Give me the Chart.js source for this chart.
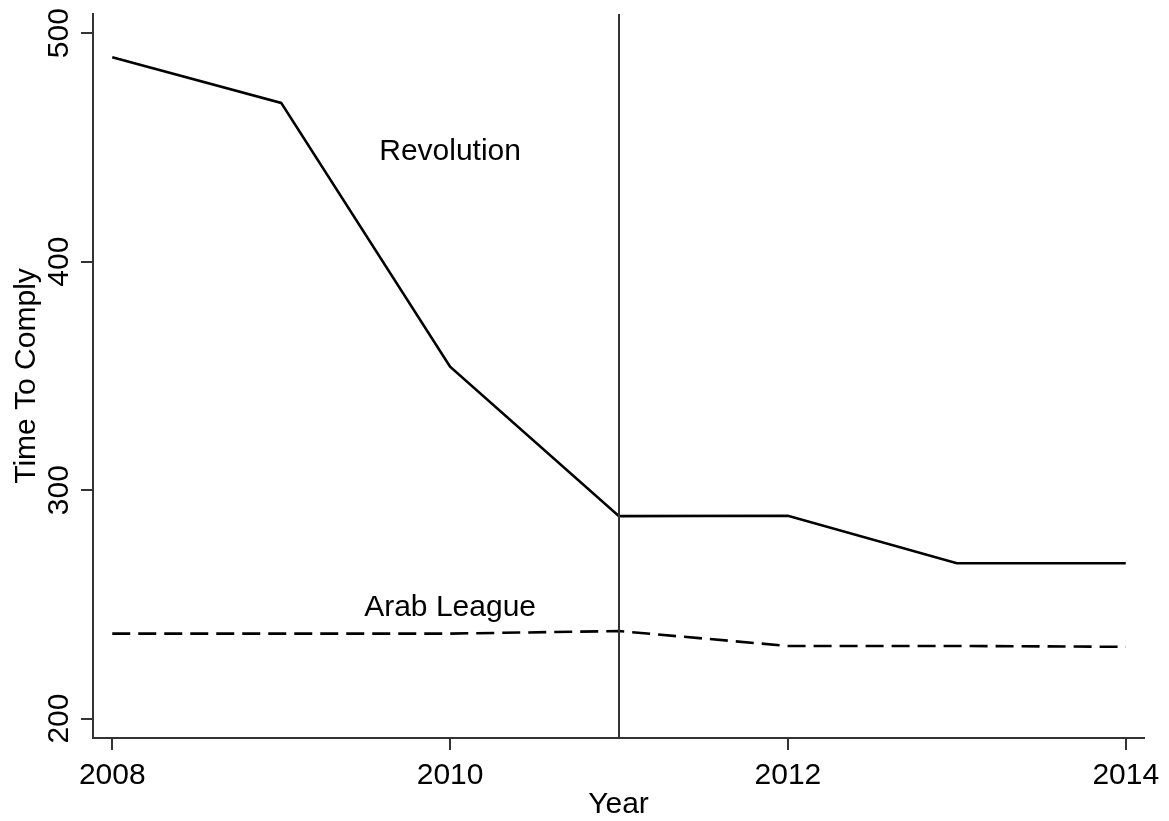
<!DOCTYPE html>
<html>
<head>
<meta charset="utf-8">
<script src="https://cdn.jsdelivr.net/npm/chart.js@4.4.1/dist/chart.umd.min.js"></script>
<style>
  html, body { margin: 0; padding: 0; background: #fff; }
  #wrap { width: 1169px; height: 821px; }
</style>
</head>
<body>
<div id="wrap"><canvas id="c" width="1169" height="821"></canvas></div>
<script>
// Time to comply (hours) by year
const years = [2008, 2009, 2010, 2011, 2012, 2013, 2014];
const revolution = [489.5, 469.5, 354.0, 288.6, 288.8, 268.0, 268.0];
const arabLeague = [237.2, 237.2, 237.2, 238.3, 231.8, 231.8, 231.4];

// Axis ticks
const xTicks = [2008, 2010, 2012, 2014];
const yTicks = [200, 300, 400, 500];

// Reference event and series captions (data coordinates)
const eventYear = 2011;
const captionText = ['Revolution', 'Arab League'];
const captionYear = [2010, 2010];
const captionValue = [448.1, 248.3];

const FONT = '"Liberation Sans", Arial, Helvetica, sans-serif';
const AXIS = '#333333';
Chart.defaults.font.family = FONT;
Chart.defaults.color = '#000';

const toPoints = (vals) => years.map((yr, i) => ({ x: yr, y: vals[i] }));

// Vertical marker at the event year plus the in-plot captions
const overlay = {
  id: 'overlay',
  afterDatasetsDraw(chart) {
    const { ctx, chartArea, scales: { x, y } } = chart;
    const px = Math.round(x.getPixelForValue(eventYear));
    ctx.save();
    ctx.strokeStyle = AXIS;
    ctx.lineWidth = 2;
    ctx.beginPath();
    ctx.moveTo(px, chartArea.top);
    ctx.lineTo(px, chartArea.bottom);
    ctx.stroke();
    ctx.font = '30px ' + FONT;
    ctx.fillStyle = '#000';
    ctx.textAlign = 'center';
    ctx.textBaseline = 'middle';
    captionText.forEach((t, i) => {
      ctx.fillText(t, x.getPixelForValue(captionYear[i]), y.getPixelForValue(captionValue[i]));
    });
    ctx.restore();
  }
};

new Chart(document.getElementById('c'), {
  type: 'scatter',
  data: {
    datasets: [
      {
        label: 'Revolution',
        data: toPoints(revolution),
        showLine: true,
        borderColor: '#000',
        borderWidth: 2.6,
        pointRadius: 0,
        tension: 0,
        fill: false
      },
      {
        label: 'Arab League',
        data: toPoints(arabLeague),
        showLine: true,
        borderColor: '#000',
        borderWidth: 2.6,
        borderDash: [18, 8],
        pointRadius: 0,
        tension: 0,
        fill: false
      }
    ]
  },
  options: {
    responsive: false,
    animation: false,
    devicePixelRatio: 1,
    layout: { padding: { top: 14, right: 25, left: 0, bottom: 0 } },
    plugins: { legend: { display: false }, tooltip: { enabled: false } },
    scales: {
      x: {
        type: 'linear',
        min: 2007.886,
        max: 2014.108,
        afterBuildTicks: (s) => { s.ticks = xTicks.map(v => ({ value: v })); },
        grid: { drawOnChartArea: false, drawTicks: true, tickLength: 12, color: AXIS, lineWidth: 2 },
        border: { display: true, color: AXIS, width: 2 },
        ticks: {
          autoSkip: false, maxRotation: 0, minRotation: 0, padding: 8,
          font: { size: 30 }, color: '#000',
          callback: (v) => String(v)
        },
        title: { display: true, text: 'Year', font: { size: 30 }, color: '#000', padding: { top: 0, bottom: -2 } },
        afterFit: (s) => { s.height = 83; s.paddingLeft = 0; s.paddingRight = 0; }
      },
      y: {
        type: 'linear',
        min: 191.5,
        max: 508.4,
        afterBuildTicks: (s) => { s.ticks = yTicks.map(v => ({ value: v })); },
        grid: { drawOnChartArea: false, drawTicks: true, tickLength: 12, color: AXIS, lineWidth: 2 },
        border: { display: true, color: AXIS, width: 2 },
        ticks: {
          autoSkip: false, minRotation: 90, maxRotation: 90, crossAlign: 'center', padding: -4,
          font: { size: 30 }, color: '#000',
          callback: (v) => String(v)
        },
        title: { display: true, text: 'Time To Comply', font: { size: 30 }, color: '#000', padding: { top: 9, bottom: 0 } },
        afterFit: (s) => { s.width = 93; s.paddingTop = 0; s.paddingBottom = 0; }
      }
    }
  },
  plugins: [overlay]
});
</script>
</body>
</html>
